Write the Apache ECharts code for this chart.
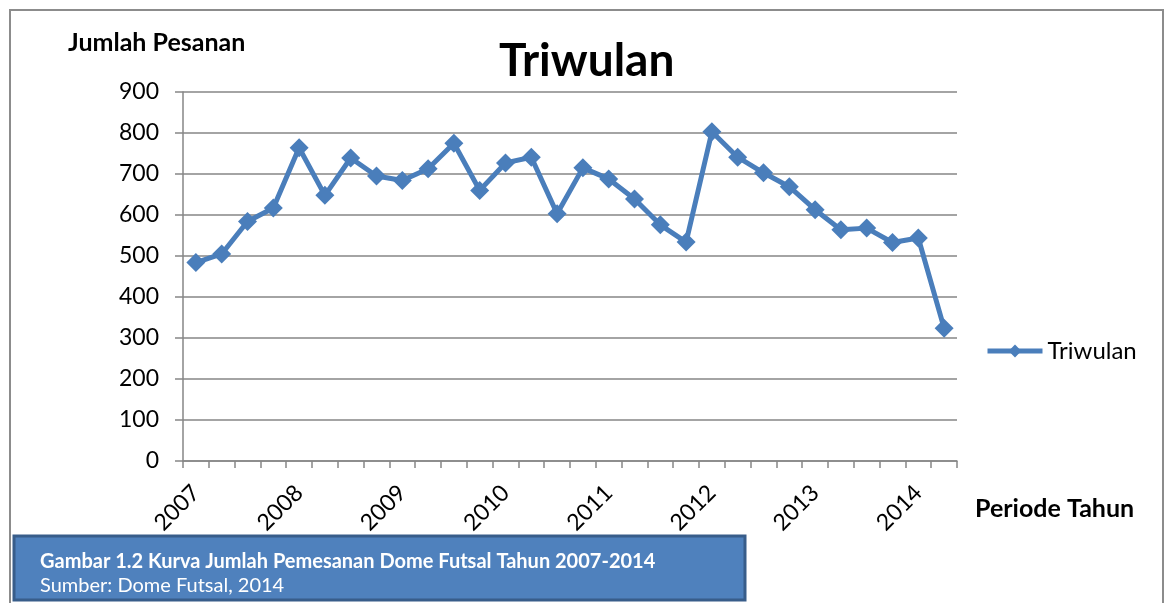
<!DOCTYPE html>
<html>
<head>
<meta charset="utf-8">
<script src="https://cdn.jsdelivr.net/npm/echarts@6/dist/echarts.min.js"></script>
<style>
html,body{margin:0;padding:0;background:#fff;}
#chart{width:1166px;height:603px;}
</style>
</head>
<body>
<div id="chart"></div>
<script>
// Data
const categories = ['2007','','','','2008','','','','2009','','','','2010','','','','2011','','','','2012','','','','2013','','','','2014',''];
const seriesName = 'Triwulan';
const values = [484,505,584,617,764,648,739,695,684,713,775,660,727,741,603,715,688,639,576,534,803,741,703,669,613,564,568,533,544,324];
const yTicks = {min:0, max:900, interval:100};
const titleText = 'Triwulan';
const yAxisTitle = 'Jumlah Pesanan';
const xAxisTitle = 'Periode Tahun';
const captionTitle = 'Gambar 1.2 Kurva Jumlah Pemesanan Dome Futsal Tahun 2007-2014';
const captionSource = 'Sumber: Dome Futsal, 2014';

const FONT = 'Lato';
const chart = echarts.init(document.getElementById('chart'), null, {renderer:'canvas'});
const gray = '#868686';
const blue = '#4A7EBB';

chart.setOption({
  animation:false,
  backgroundColor:'#fff',
  textStyle:{fontFamily:FONT},
  title:{
    text:titleText,
    left:494,
    top:33,
    textStyle:{fontFamily:FONT,fontWeight:'bold',fontSize:46,color:'#000'}
  },
  legend:{
    data:[seriesName],
    left:985,
    top:339,
    padding:0,
    orient:'vertical',
    itemWidth:55,
    itemHeight:16,
    itemGap:8,
    lineStyle:{width:5},
    textStyle:{fontFamily:FONT,fontSize:24,color:'#000'}
  },
  grid:{left:183,right:209,top:92,bottom:142,containLabel:false},
  xAxis:{
    type:'category',
    data:categories,
    boundaryGap:true,
    axisLine:{lineStyle:{color:gray,width:1.5}},
    axisTick:{show:true,interval:0,length:7,lineStyle:{color:gray,width:1.5}},
    axisLabel:{interval:0,rotate:45,margin:28,fontFamily:FONT,fontSize:23,color:'#000'}
  },
  yAxis:{
    type:'value',
    min:yTicks.min,max:yTicks.max,interval:yTicks.interval,
    axisLine:{show:true,lineStyle:{color:gray,width:1.5}},
    axisTick:{show:true,length:8,lineStyle:{color:gray,width:1.5}},
    splitLine:{show:true,lineStyle:{color:gray,width:1.5}},
    axisLabel:{margin:24,fontFamily:FONT,fontSize:23,color:'#000'}
  },
  series:[{
    name:seriesName,
    type:'line',
    data:values,
    symbol:'diamond',
    symbolSize:19,
    lineStyle:{color:blue,width:5},
    itemStyle:{color:blue},
    z:3
  }],
  graphic:[
    {type:'rect',shape:{x:10,y:10,width:1153,height:620},style:{fill:'none',stroke:'#8c8c8c',lineWidth:2},z:-10,silent:true},
    {type:'text',left:68,top:30,style:{text:yAxisTitle,fontFamily:FONT,fontWeight:'bold',fontSize:25,fill:'#000'}},
    {type:'text',left:975,top:496,style:{text:xAxisTitle,fontFamily:FONT,fontWeight:'bold',fontSize:25,fill:'#000'}},
    {type:'rect',shape:{x:14,y:536,width:731,height:64},style:{fill:'#4F81BD',stroke:'#385D8A',lineWidth:3},z:50},
    {type:'text',x:40,y:552,style:{text:captionTitle,fontFamily:FONT,fontWeight:'bold',fontSize:20,fill:'#fff'},z:51},
    {type:'text',x:40,y:576,style:{text:captionSource,fontFamily:FONT,fontSize:20,fill:'#fff'},z:51}
  ]
});
</script>
</body>
</html>
